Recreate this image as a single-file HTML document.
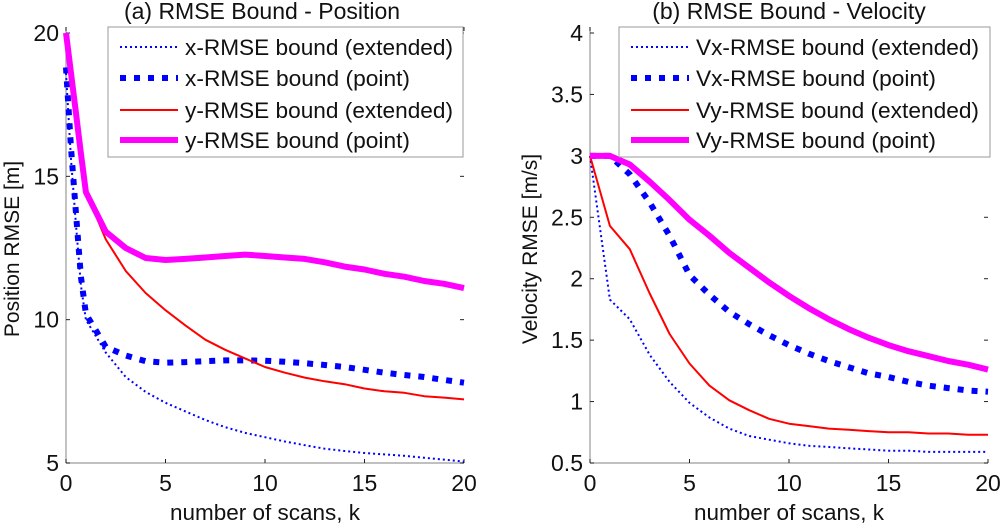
<!DOCTYPE html>
<html><head><meta charset="utf-8"><style>
html,body{margin:0;padding:0;background:#fff;}
svg{display:block;font-family:"Liberation Sans",Arial,sans-serif;}
</style></head><body>
<svg id="chart" width="1000" height="528" viewBox="0 0 1000 528"></svg>
<script>
// Panel (a) data
const xsA = [0,0.25,0.5,0.75,1,2,3,4,5,6,7,8,9,10,11,12,13,14,15,16,17,18,19,20];
const xExtA = [18.6,15.6,13.3,11.2,10.0,8.85,8.0,7.48,7.1,6.8,6.5,6.25,6.05,5.9,5.75,5.62,5.5,5.42,5.35,5.3,5.25,5.18,5.12,5.05];
const xPtA = [18.8,16.0,13.7,11.5,10.2,9.05,8.75,8.55,8.5,8.52,8.55,8.58,8.58,8.57,8.53,8.48,8.42,8.35,8.25,8.15,8.07,8.0,7.9,7.8];
const yExtA = [20,18.6,17.2,15.8,14.45,12.8,11.7,10.93,10.33,9.8,9.3,8.95,8.65,8.35,8.15,7.98,7.85,7.75,7.6,7.5,7.45,7.33,7.28,7.22];
const yPtA = [20,18.6,17.2,15.8,14.45,13.07,12.5,12.15,12.08,12.12,12.17,12.22,12.27,12.22,12.17,12.12,12.0,11.85,11.75,11.6,11.5,11.35,11.25,11.1];
const yTicksA = [5,10,15,20];
// Panel (b) data
const xsB = [0,1,2,3,4,5,6,7,8,9,10,11,12,13,14,15,16,17,18,19,20];
const vxExtB = [3.0,1.83,1.67,1.38,1.16,0.99,0.87,0.78,0.72,0.69,0.66,0.64,0.63,0.62,0.61,0.6,0.6,0.59,0.59,0.59,0.59];
const vxPtB = [3.0,3.0,2.85,2.62,2.35,2.03,1.87,1.73,1.63,1.54,1.46,1.39,1.33,1.28,1.23,1.2,1.16,1.13,1.11,1.09,1.08];
const vyExtB = [3.0,2.43,2.24,1.88,1.55,1.31,1.13,1.01,0.93,0.86,0.82,0.8,0.78,0.77,0.76,0.75,0.75,0.74,0.74,0.73,0.73];
const vyPtB = [3.0,3.0,2.93,2.79,2.64,2.48,2.35,2.21,2.09,1.97,1.86,1.76,1.67,1.59,1.52,1.46,1.41,1.37,1.33,1.3,1.26];
const yTicksB = [0.5,1,1.5,2,2.5,3,3.5,4];
const yTickLabelsB = ["0.5","1","1.5","2","2.5","3","3.5","4"];
const xTicks = [0,5,10,15,20];

const NS = "http://www.w3.org/2000/svg";
const svg = document.getElementById('chart');
function mk(tag, attrs, parent, name, text){
  const e = document.createElementNS(NS, tag);
  for (const k in attrs) e.setAttribute(k, attrs[k]);
  
  
  if (text !== undefined) e.textContent = text;
  (parent||svg).appendChild(e);
  return e;
}

function panel(cfg){
  const g = mk('g', {}, svg, cfg.id);
  const sx = v => cfg.x0 + (v - 0) / 20 * (cfg.x1 - cfg.x0);
  const sy = v => cfg.yb + (v - cfg.ymin) / (cfg.ymax - cfg.ymin) * (cfg.yt - cfg.yb);
  mk('line', {x1:cfg.x0, y1:27, x2:cfg.x0, y2:cfg.yb, stroke:'#9a9a9a','stroke-width':1.2}, g, 'y-axis-line');
  mk('line', {x1:cfg.x0, y1:cfg.yb, x2:cfg.x1, y2:cfg.yb, stroke:'#9a9a9a','stroke-width':1.2}, g, 'x-axis-line');
  xTicks.forEach(t=>{
    mk('line', {x1:sx(t), y1:cfg.yb, x2:sx(t), y2:cfg.yb-4, stroke:'#222','stroke-width':1}, g, 'x-tick');
    mk('line', {x1:sx(t), y1:27, x2:sx(t), y2:31, stroke:'#222','stroke-width':1}, g, 'x-tick-top');
    mk('text', {x:sx(t), y:cfg.yb+28, 'font-size':23, 'text-anchor':'middle', fill:'#111'}, g, 'x-tick-label', String(t));
  });
  cfg.yTicks.forEach((t,i)=>{
    mk('line', {x1:cfg.x0, y1:sy(t), x2:cfg.x0+4, y2:sy(t), stroke:'#222','stroke-width':1}, g, 'y-tick');
    mk('line', {x1:cfg.x1, y1:sy(t), x2:cfg.x1-4, y2:sy(t), stroke:'#222','stroke-width':1}, g, 'y-tick-right');
    mk('text', {x:cfg.x0-7, y:sy(t)+8, 'font-size':23, 'text-anchor':'end', fill:'#111'}, g, 'y-tick-label', cfg.yLabels[i]);
  });
  mk('text', {x:(cfg.x0+cfg.x1)/2, y:520, 'font-size':22, 'text-anchor':'middle', fill:'#111', textLength:190, lengthAdjust:'spacingAndGlyphs'}, g, 'x-axis-title', 'number of scans, k');
  mk('text', {x:cfg.ylx, y:249, 'font-size':21, 'text-anchor':'middle', fill:'#111', transform:`rotate(-90 ${cfg.ylx} 249)`}, g, 'y-axis-title', cfg.ylabel);
  mk('text', {x:cfg.tx, y:19, 'font-size':23, 'text-anchor':'middle', fill:'#111'}, g, 'chart-title', cfg.title);
  cfg.series.forEach(s=>{
    const d = s.ys.map((v,i)=>(i?'L':'M')+sx(s.xs[i]).toFixed(1)+','+sy(v).toFixed(1)).join(' ');
    const a = {d:d, fill:'none', stroke:s.color, 'stroke-width':s.w, 'stroke-linejoin':'round'};
    if (s.dash) a['stroke-dasharray']=s.dash;
    mk('path', a, g, s.name);
  });
  const lg = mk('g', {}, g, 'legend');
  mk('rect', {x:cfg.lx, y:27, width:cfg.lw, height:130, fill:'#fff', stroke:'#9a9a9a','stroke-width':1}, lg, 'legend-box');
  const rows=[47,78,110,140];
  cfg.series.forEach((s,i)=>{
    const a = {x1:cfg.lx+12, y1:rows[i], x2:cfg.lx+70, y2:rows[i], stroke:s.color,'stroke-width':s.w};
    if (s.dash) a['stroke-dasharray']=s.dash;
    mk('line', a, lg, 'legend-swatch');
    mk('text', {x:cfg.lx+77, y:rows[i]+8, 'font-size':22, fill:'#111', textLength:s.tl, lengthAdjust:'spacingAndGlyphs'}, lg, 'legend-entry', s.label);
  });
}

panel({id:'panel-position', x0:66, x1:464, yb:463, yt:33, ymin:5, ymax:20,
  yTicks:yTicksA, yLabels:yTicksA.map(String), ylabel:'Position RMSE [m]', ylx:19,
  title:'(a) RMSE Bound - Position', tx:262, lx:108, lw:355,
  series:[
    {name:'x-rmse-extended-line', xs:xsA, ys:xExtA, color:'#0000ff', w:2, dash:'2 3', label:'x-RMSE bound (extended)', tl:268},
    {name:'x-rmse-point-line', xs:xsA, ys:xPtA, color:'#0000ff', w:6, dash:'6 8', label:'x-RMSE bound (point)', tl:225},
    {name:'y-rmse-extended-line', xs:xsA, ys:yExtA, color:'#ff0000', w:2, label:'y-RMSE bound (extended)', tl:268},
    {name:'y-rmse-point-line', xs:xsA, ys:yPtA, color:'#ff00ff', w:6, label:'y-RMSE bound (point)', tl:225}
  ]});
panel({id:'panel-velocity', x0:590, x1:988, yb:463, yt:33, ymin:0.5, ymax:4,
  yTicks:yTicksB, yLabels:yTickLabelsB, ylabel:'Velocity RMSE [m/s]', ylx:537,
  title:'(b) RMSE Bound - Velocity', tx:789, lx:619, lw:371,
  series:[
    {name:'vx-rmse-extended-line', xs:xsB, ys:vxExtB, color:'#0000ff', w:2, dash:'2 3', label:'Vx-RMSE bound (extended)', tl:283},
    {name:'vx-rmse-point-line', xs:xsB, ys:vxPtB, color:'#0000ff', w:6, dash:'6 8', label:'Vx-RMSE bound (point)', tl:240},
    {name:'vy-rmse-extended-line', xs:xsB, ys:vyExtB, color:'#ff0000', w:2, label:'Vy-RMSE bound (extended)', tl:283},
    {name:'vy-rmse-point-line', xs:xsB, ys:vyPtB, color:'#ff00ff', w:6, label:'Vy-RMSE bound (point)', tl:240}
  ]});
</script>
</body></html>
